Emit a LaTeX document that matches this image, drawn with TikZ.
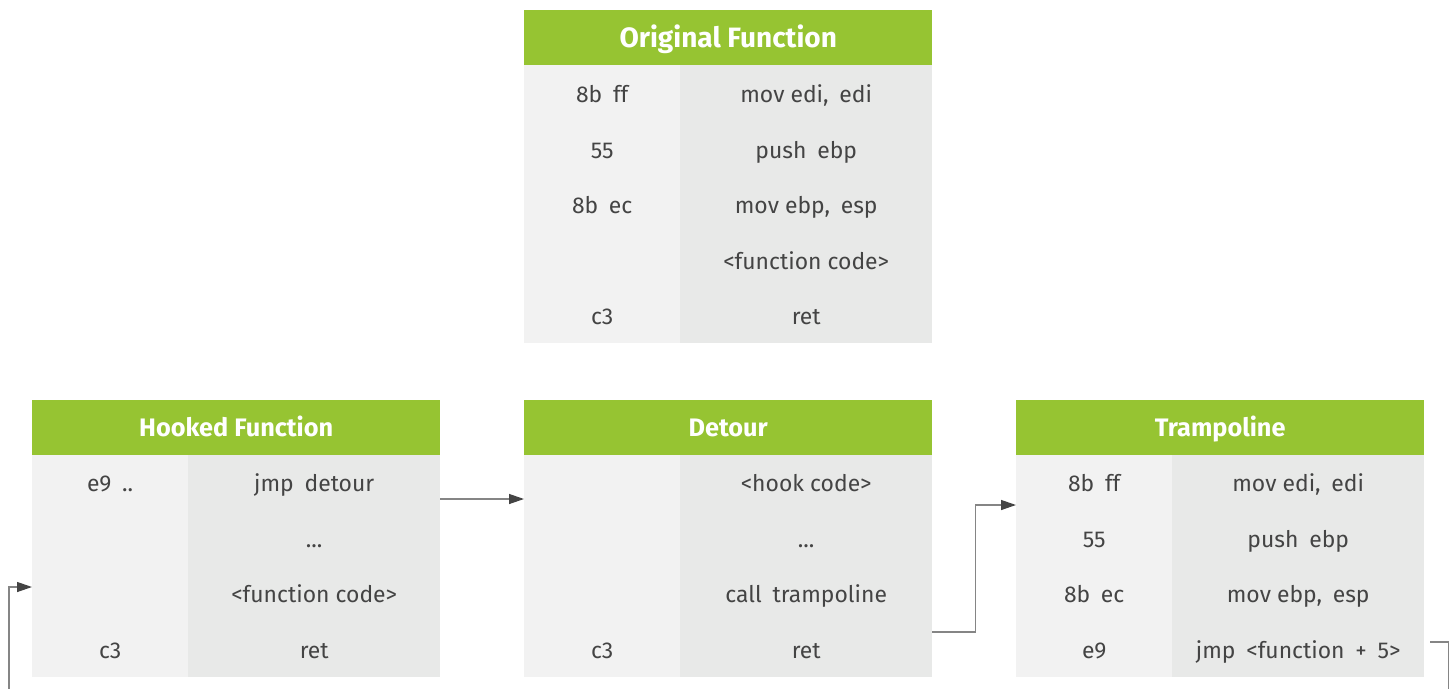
\documentclass[tikz,border=0pt]{standalone}
\usepackage{fontspec}
\setmainfont{Fira Sans}
\usetikzlibrary{arrows.meta,calc}

\definecolor{hdrgreen}{HTML}{96C432}
\definecolor{lcolbg}{HTML}{F2F2F2}
\definecolor{rcolbg}{HTML}{E8E9E8}
\definecolor{txtgrey}{HTML}{444444}
\definecolor{linegrey}{HTML}{858585}
\definecolor{tipgrey}{HTML}{444444}

\tikzset{
  hdr/.style={fill=hdrgreen, text=white, anchor=north west, inner sep=0pt,
    minimum width=408pt, minimum height=55pt, text height=17.4pt, text depth=0pt,
    font=\fontsize{25.3}{28}\selectfont\bfseries},
  hdrbig/.style={hdr, text height=19.3pt, font=\fontsize{28}{32}\selectfont\bfseries},
  lcol/.style={fill=lcolbg, anchor=north west, inner sep=0pt, minimum width=156pt},
  rcol/.style={fill=rcolbg, anchor=north west, inner sep=0pt, minimum width=252pt},
  txt/.style={text=txtgrey, inner sep=0pt, text height=16.2pt, text depth=0pt,
    font=\fontsize{22.9}{27}\selectfont},
  conn/.style={draw=linegrey, line width=1.3pt,
    -{Triangle[length=15pt,width=10pt,color=tipgrey]}},
}
\newcommand{\gap}{\hspace{0.47em}}

\begin{document}
\begin{tikzpicture}[x=1pt,y=-1pt]
\path[use as bounding box] (0,0) rectangle (1450,688);
\clip (0,0) rectangle (1450,688);

% ---------- Original Function ----------
\node[hdrbig] (of-h) at (524,10) {Original Function};
\node[lcol, minimum height=278pt] (of-l) at (524,65) {};
\node[rcol, minimum height=278pt] (of-r) at (680,65) {};
\foreach \y/\a/\b in {94.3/{8b\gap ff}/{mov edi,\gap edi}, 150/{55}/{push\gap ebp},
                      205.5/{8b\gap ec}/{mov ebp,\gap esp}, 261/{}/{<function code>}, 316.7/{c3}/{ret}}{
  \node[txt] at (of-l.north |- 0,\y) {\a};
  \node[txt] at (of-r.north |- 0,\y) {\b};
}

% ---------- Hooked Function ----------
\node[hdr] (hk-h) at (32,400) {Hooked Function};
\node[lcol, minimum height=222pt] (hk-l) at (32,455) {};
\node[rcol, minimum height=222pt] (hk-r) at (188,455) {};
\foreach \y/\a/\b in {483.5/{e9\gap ..}/{jmp\gap detour}, 539/{}/{...}, 594.5/{}/{<function code>}, 650/{c3}/{ret}}{
  \node[txt] at (hk-l.north |- 0,\y) {\a};
  \node[txt] at (hk-r.north |- 0,\y) {\b};
}

% ---------- Detour ----------
\node[hdr] (dt-h) at (524,400) {Detour};
\node[lcol, minimum height=222pt] (dt-l) at (524,455) {};
\node[rcol, minimum height=222pt] (dt-r) at (680,455) {};
\foreach \y/\a/\b in {483.5/{}/{<hook code>}, 539/{}/{...}, 594.5/{}/{call\gap trampoline}, 650/{c3}/{ret}}{
  \node[txt] at (dt-l.north |- 0,\y) {\a};
  \node[txt] at (dt-r.north |- 0,\y) {\b};
}

% ---------- Trampoline ----------
\node[hdr] (tr-h) at (1016,400) {Trampoline};
\node[lcol, minimum height=222pt] (tr-l) at (1016,455) {};
\node[rcol, minimum height=222pt] (tr-r) at (1172,455) {};
\foreach \y/\a/\b in {483.5/{8b\gap ff}/{mov edi,\gap edi}, 539/{55}/{push\gap ebp},
                      594.5/{8b\gap ec}/{mov ebp,\gap esp}, 650/{e9}/{jmp\gap <function\gap +\gap 5>}}{
  \node[txt] at (tr-l.north |- 0,\y) {\a};
  \node[txt] at (tr-r.north |- 0,\y) {\b};
}

% ---------- Control flow ----------
\draw[conn] (hk-r.east |- 0,499) -- (dt-l.west |- 0,499);
\draw[conn] (dt-r.east |- 0,632) -- ++(43,0) |- (tr-l.west |- 0,505);
\draw[conn] ($(tr-r.east |- 0,642)+(6,0)$) -- ++(18,0) -- ++(0,60)
  -- (9,702) |- (hk-l.west |- 0,587);
\end{tikzpicture}
\end{document}
